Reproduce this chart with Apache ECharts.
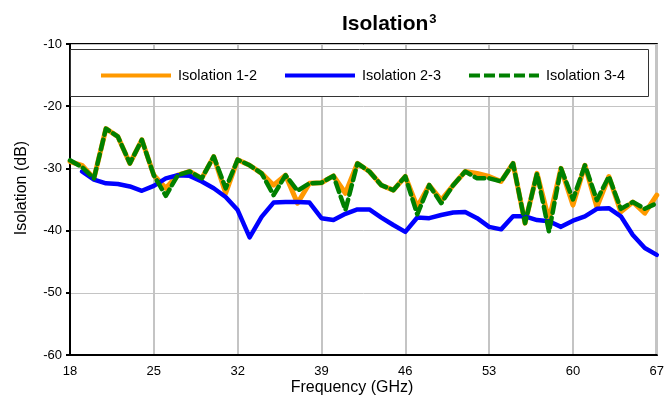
<!DOCTYPE html>
<html>
<head>
<meta charset="utf-8">
<script src="https://cdn.jsdelivr.net/npm/echarts@6/dist/echarts.min.js"></script>
<style>
  html, body { margin: 0; padding: 0; background: #fff; }
  #chart { width: 667px; height: 399px; }
</style>
</head>
<body>
<div id="chart"></div>
<script>
// Frequency points (GHz)
const freqs = [18, 19, 20, 21, 22, 23, 24, 25, 26, 27, 28, 29, 30, 31, 32, 33, 34,
  35, 36, 37, 38, 39, 40, 41, 42, 43, 44, 45, 46, 47, 48, 49, 50, 51, 52, 53, 54,
  55, 56, 57, 58, 59, 60, 61, 62, 63, 64, 65, 66, 67];

// Isolation (dB) per port pair
const iso12 = [-28.9, -29.5, -31.6, -23.6, -24.9, -29.2, -25.4, -31.1, -33.2, -31.1,
  -30.5, -31.6, -28.1, -34.0, -28.6, -29.5, -30.8, -32.7, -31.1, -35.6,
  -32.4, -32.3, -31.2, -34.0, -29.2, -30.5, -32.7, -33.5, -31.3, -36.2,
  -32.7, -35.1, -32.7, -30.5, -30.8, -31.3, -32.1, -29.2, -38.8, -30.8,
  -38.3, -30.0, -35.9, -29.5, -36.2, -31.3, -37.0, -35.4, -37.2, -34.3];

const iso23 = [null, -30.5, -31.8, -32.4, -32.5, -32.9, -33.6, -32.8, -31.6, -31.1,
  -31.2, -32.1, -33.2, -34.6, -36.7, -41.1, -37.8, -35.5, -35.4, -35.4,
  -35.5, -38.0, -38.3, -37.3, -36.6, -36.6, -37.9, -39.1, -40.2, -37.9,
  -38.0, -37.5, -37.1, -37.0, -38.0, -39.4, -39.8, -37.7, -37.7, -38.3,
  -38.5, -39.4, -38.4, -37.7, -36.5, -36.4, -37.7, -40.7, -42.8, -43.9];

const iso34 = [-28.7, -29.8, -31.6, -23.6, -24.9, -29.2, -25.4, -31.1, -34.4, -31.1,
  -30.5, -31.6, -28.1, -33.2, -28.6, -29.5, -30.8, -34.3, -31.1, -33.6,
  -32.4, -32.3, -31.2, -36.7, -29.2, -30.5, -32.7, -33.5, -31.3, -37.4,
  -32.7, -35.6, -32.7, -30.5, -31.6, -31.6, -32.1, -29.2, -38.8, -30.8,
  -40.2, -30.0, -35.0, -29.5, -35.1, -31.3, -36.5, -35.4, -36.5, -35.6];

const yTicks = [-60, -50, -40, -30, -20, -10];

const FONT = '"Liberation Sans", Arial, sans-serif';

// Legend swatches: solid bars and a five-dash bar
const solidIcon = 'path://M0,0h70v4h-70z';
const dashIcon = 'path://M0,0h11v4h-11z M15,0h11v4h-11z M30,0h11v4h-11z M45,0h11v4h-11z M60,0h10v4h-10z';

const chart = echarts.init(document.getElementById('chart'), null, { renderer: 'canvas' });

const lineBase = { cap: 'round', join: 'round' };

chart.setOption({
  animation: false,
  backgroundColor: '#fff',
  textStyle: { fontFamily: FONT, color: '#000' },
  title: {
    text: '{a|Isolation}{b|3}',
    left: 337,
    top: 8,
    textStyle: {
      rich: {
        a: { fontFamily: FONT, fontSize: 21, fontWeight: 'bold', color: '#000' },
        b: { fontFamily: FONT, fontSize: 13, fontWeight: 'bold', color: '#000', padding: [0, 0, 9, 1] }
      }
    }
  },
  graphic: [
    {
      type: 'rect',
      z: 3,
      shape: { x: 70.5, y: 49.5, width: 578, height: 47 },
      style: { fill: '#fff', stroke: '#333', lineWidth: 1 }
    },
    {
      type: 'text',
      z: 5,
      x: 22, y: 188,
      rotation: Math.PI / 2,
      style: {
        text: 'Isolation (dB)', fontFamily: FONT, fontSize: 16, fill: '#000',
        align: 'center', verticalAlign: 'middle'
      }
    },
    {
      type: 'text',
      z: 5,
      x: 352, y: 388,
      style: {
        text: 'Frequency (GHz)', fontFamily: FONT, fontSize: 16, fill: '#000',
        align: 'center', verticalAlign: 'middle'
      }
    }
  ],
  legend: {
    left: 96,
    top: 63,
    itemWidth: 70,
    itemHeight: 4,
    itemGap: 28,
    z: 5,
    textStyle: { fontFamily: FONT, fontSize: 14.5, color: '#000', padding: [0, 0, 0, 2] },
    data: [
      { name: 'Isolation 1-2', icon: solidIcon },
      { name: 'Isolation 2-3', icon: solidIcon },
      { name: 'Isolation 3-4', icon: dashIcon }
    ]
  },
  grid: {
    left: 70, right: 2, top: 44, bottom: 44,
    show: true,
    borderColor: '#000',
    borderWidth: 2,
    backgroundColor: 'transparent'
  },
  xAxis: {
    type: 'category',
    data: freqs.map(String),
    boundaryGap: false,
    axisLine: { lineStyle: { color: '#000', width: 2 } },
    axisTick: { show: false },
    axisLabel: { interval: 6, fontFamily: FONT, fontSize: 13, color: '#000', margin: 10 },
    splitLine: { show: true, interval: 6, lineStyle: { color: '#c4c4c4', width: 2 } }
  },
  yAxis: {
    type: 'value',
    min: yTicks[0],
    max: yTicks[yTicks.length - 1],
    interval: 10,
    axisLine: { show: true, lineStyle: { color: '#000', width: 2 } },
    axisTick: { show: true, length: 4, lineStyle: { color: '#000', width: 2 } },
    axisLabel: { fontFamily: FONT, fontSize: 13, color: '#000', margin: 8 },
    splitLine: { show: true, lineStyle: { color: '#c4c4c4', width: 1 } }
  },
  series: [
    {
      name: 'Isolation 1-2', type: 'line', data: iso12, symbol: 'none',
      color: '#ff9900',
      lineStyle: Object.assign({ color: '#ff9900', width: 5 }, lineBase)
    },
    {
      name: 'Isolation 2-3', type: 'line', data: iso23, symbol: 'none',
      color: '#0000ff',
      lineStyle: Object.assign({ color: '#0000ff', width: 4.5 }, lineBase)
    },
    {
      name: 'Isolation 3-4', type: 'line', data: iso34, symbol: 'none',
      color: '#008000',
      lineStyle: Object.assign({ color: '#008000', width: 4.5, type: [10, 5] }, lineBase)
    }
  ]
});
</script>
</body>
</html>
